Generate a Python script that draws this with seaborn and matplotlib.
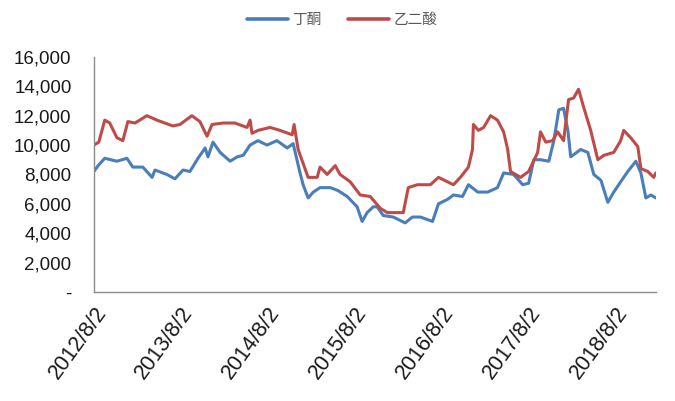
import matplotlib
matplotlib.use("Agg")
import matplotlib.pyplot as plt
import matplotlib.dates as mdates
from matplotlib.ticker import FuncFormatter
import pandas as pd
import seaborn as sns

# 乙二酸 price series (yuan/ton)
adipic_dates = [
    "2012-08-02", "2012-08-23", "2012-09-17", "2012-10-08", "2012-11-07", "2012-12-02",
    "2012-12-23", "2013-01-22", "2013-03-13", "2013-04-24", "2013-06-30", "2013-07-30",
    "2013-09-18", "2013-10-22", "2013-11-21", "2013-12-12", "2014-01-27", "2014-03-18",
    "2014-05-08", "2014-05-21", "2014-05-29", "2014-06-23", "2014-08-13", "2014-09-24",
    "2014-11-14", "2014-11-22", "2014-12-09", "2015-01-20", "2015-02-27", "2015-03-11",
    "2015-04-10", "2015-05-14", "2015-06-03", "2015-07-16", "2015-08-27", "2015-10-08",
    "2015-11-19", "2015-12-19", "2016-02-24", "2016-03-16", "2016-04-23", "2016-06-17",
    "2016-07-21", "2016-09-22", "2016-10-21", "2016-11-24", "2016-12-11", "2016-12-15",
    "2017-01-05", "2017-01-27", "2017-02-25", "2017-03-26", "2017-04-21", "2017-05-08",
    "2017-05-20", "2017-07-01", "2017-08-04", "2017-09-11", "2017-09-23", "2017-10-15",
    "2017-11-13", "2017-12-04", "2017-12-29", "2018-01-19", "2018-02-09", "2018-03-02",
    "2018-03-23", "2018-04-22", "2018-05-22", "2018-06-16", "2018-07-28", "2018-08-26",
    "2018-09-08", "2018-10-07", "2018-11-06", "2018-11-19", "2018-12-18", "2019-01-12",
    "2019-01-21",
]
adipic_values = [
    10000, 10200, 11700, 11500, 10500, 10300,
    11600, 11500, 12000, 11700, 11300, 11400,
    12000, 11600, 10600, 11400, 11500, 11500,
    11200, 11700, 10800, 11000, 11200, 11000,
    10700, 11400, 9700, 7800, 7800, 8500,
    8000, 8600, 8000, 7500, 6600, 6500,
    5700, 5400, 5400, 7100, 7300, 7300,
    7800, 7300, 7800, 8500, 9700, 11400,
    11000, 11200, 12000, 11700, 10900, 9700,
    8200, 7800, 8200, 9500, 10900, 10200,
    10300, 10900, 10300, 13100, 13200, 13800,
    12600, 11000, 9000, 9300, 9500, 10300,
    11000, 10500, 9900, 8400, 8200, 7800,
    8100,
]

# 丁酮 price series (yuan/ton)
mek_dates = [
    "2012-08-02", "2012-08-20", "2012-09-17", "2012-11-07", "2012-12-19", "2013-01-13",
    "2013-02-24", "2013-04-04", "2013-04-16", "2013-06-05", "2013-07-09", "2013-08-12",
    "2013-09-10", "2013-10-14", "2013-11-13", "2013-11-25", "2013-12-16", "2014-01-15",
    "2014-02-26", "2014-03-28", "2014-04-22", "2014-05-21", "2014-06-23", "2014-07-31",
    "2014-09-11", "2014-10-24", "2014-11-18", "2014-12-17", "2014-12-30", "2015-01-20",
    "2015-02-11", "2015-03-11", "2015-04-23", "2015-05-26", "2015-07-03", "2015-08-14",
    "2015-09-04", "2015-09-25", "2015-10-21", "2015-11-06", "2015-12-02", "2016-01-13",
    "2016-03-03", "2016-04-02", "2016-05-06", "2016-06-26", "2016-07-21", "2016-08-28",
    "2016-09-22", "2016-10-30", "2016-11-24", "2017-01-02", "2017-02-13", "2017-03-26",
    "2017-04-21", "2017-06-02", "2017-07-10", "2017-08-04", "2017-08-26", "2017-09-23",
    "2017-10-28", "2017-11-18", "2017-12-09", "2017-12-29", "2018-01-16", "2018-01-28",
    "2018-03-11", "2018-04-10", "2018-05-05", "2018-06-04", "2018-07-03", "2018-07-28",
    "2018-08-26", "2018-09-25", "2018-10-29", "2018-11-19", "2018-12-10", "2018-12-31",
    "2019-01-21",
]
mek_values = [
    8200, 8600, 9100, 8900, 9100, 8500,
    8500, 7800, 8300, 8000, 7700, 8300,
    8200, 9100, 9800, 9200, 10200, 9500,
    8900, 9200, 9300, 10000, 10300, 10000,
    10300, 9800, 10100, 8100, 7300, 6400,
    6800, 7100, 7100, 6900, 6500, 5800,
    4800, 5400, 5800, 5800, 5200, 5100,
    4700, 5100, 5100, 4800, 6000, 6300,
    6600, 6500, 7300, 6800, 6800, 7100,
    8100, 8000, 7300, 7400, 9000, 9000,
    8900, 10300, 12400, 12500, 11000, 9200,
    9700, 9500, 8000, 7600, 6100, 6800,
    7500, 8200, 8900, 8100, 6400, 6600,
    6400,
]

series_names = ["丁酮", "乙二酸"]
series_colors = ["#4A7EBB", "#BE4B48"]
tick_dates = ["2012-08-02", "2013-08-02", "2014-08-02", "2015-08-02",
              "2016-08-02", "2017-08-02", "2018-08-02"]
y_ticks = [0, 2000, 4000, 6000, 8000, 10000, 12000, 14000, 16000]

df = pd.concat([
    pd.DataFrame({"date": pd.to_datetime(mek_dates), "price": mek_values,
                  "product": series_names[0]}),
    pd.DataFrame({"date": pd.to_datetime(adipic_dates), "price": adipic_values,
                  "product": series_names[1]}),
], ignore_index=True)

sns.set_theme(style="white")
plt.rcParams["font.family"] = ["Liberation Sans", "Noto Sans CJK SC", "DejaVu Sans"]

fig = plt.figure(figsize=(6.75, 4.01), dpi=100)
ax = fig.add_axes([0.139, 0.272, 0.833, 0.586])

sns.lineplot(data=df, x="date", y="price", hue="product", hue_order=series_names,
             palette=series_colors, linewidth=2.2, ax=ax, legend=False)

ax.set_xlim(pd.Timestamp("2012-08-02"), pd.Timestamp("2019-01-22"))
ax.set_ylim(0, 16000)
ax.set_xticks(pd.to_datetime(tick_dates))
ax.xaxis.set_major_formatter(FuncFormatter(
    lambda v, _: "{d.year}/{d.month}/{d.day}".format(d=mdates.num2date(v))))
ax.set_yticks(y_ticks)
ax.yaxis.set_major_formatter(FuncFormatter(
    lambda v, _: "-" if v == 0 else f"{int(v):,}"))

ax.set_xlabel("")
ax.set_ylabel("")
for side in ("top", "right"):
    ax.spines[side].set_visible(False)
for side in ("left", "bottom"):
    ax.spines[side].set_color("#8C8C8C")
    ax.spines[side].set_linewidth(1.0)

ax.tick_params(axis="y", which="major", direction="out", length=6, width=1,
               color="#8C8C8C", pad=10, labelsize=13.5, labelcolor="#1A1A1A")
ax.tick_params(axis="x", which="major", direction="out", length=5, width=1,
               color="#8C8C8C", pad=3, labelsize=15.5, labelcolor="#1A1A1A")
for lab in ax.get_xticklabels():
    lab.set_rotation(54)
    lab.set_ha("right")
    lab.set_va("top")
    lab.set_rotation_mode("anchor")

handles = [plt.Line2D([], [], color=c, linewidth=2.6) for c in series_colors]
fig.legend(handles, series_names, loc="center", bbox_to_anchor=(0.507, 0.95),
           ncol=2, frameon=False, handlelength=2.8, handletextpad=0.3,
           columnspacing=1.8,
           prop={"family": ["Noto Sans CJK SC", "DejaVu Sans"], "size": 10.5},
           labelcolor="#595959")

fig.savefig("out.png", dpi=100)
